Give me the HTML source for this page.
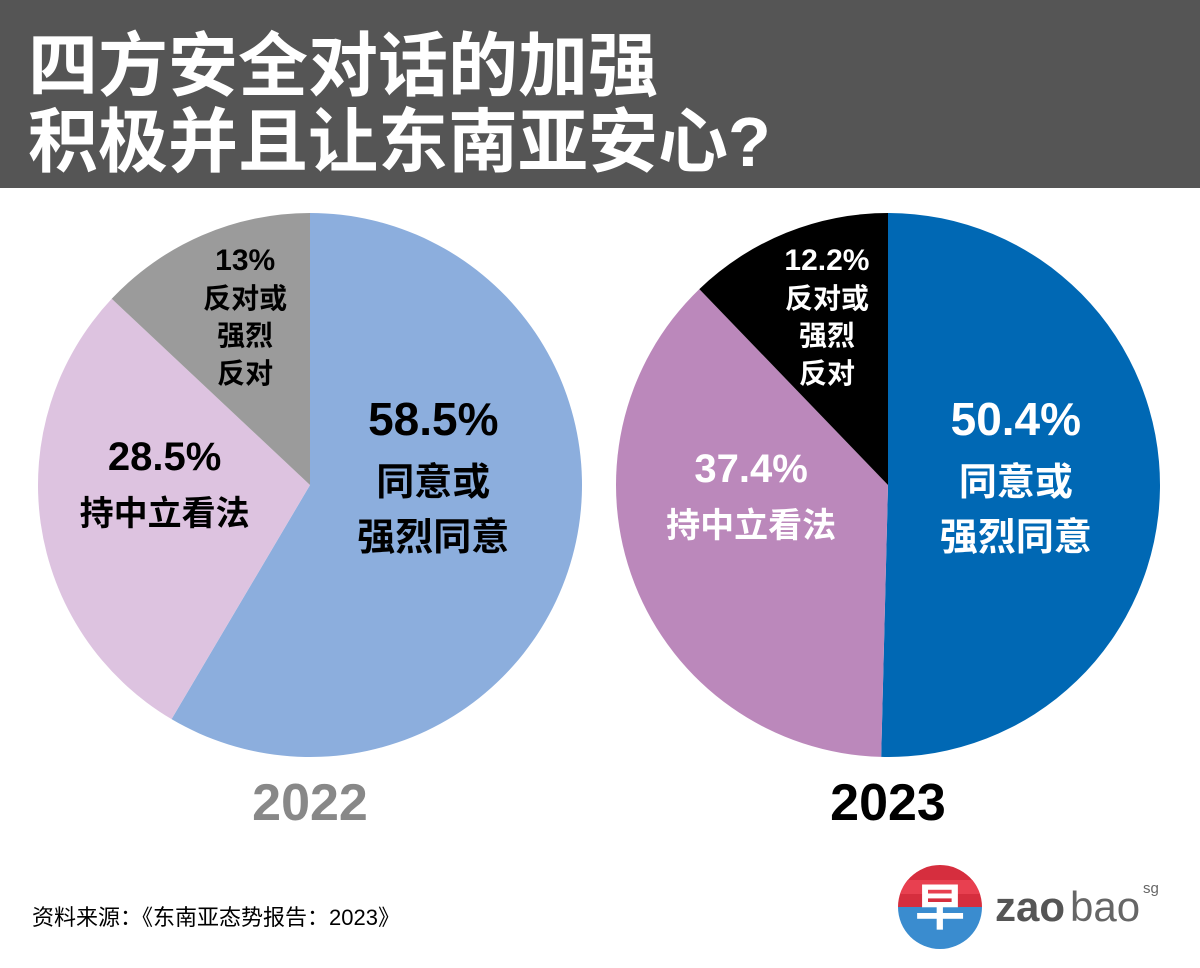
<!DOCTYPE html>
<html><head><meta charset="utf-8"><style>
body{margin:0;width:1200px;height:963px;background:#fff;overflow:hidden;font-family:"Liberation Sans","Noto Sans CJK SC",sans-serif}
svg text{font-family:"Liberation Sans","Noto Sans CJK SC",sans-serif}
</style></head><body>
<svg width="1200" height="963">
<rect x="0" y="0" width="1200" height="188" fill="#555555"/>
<text x="28" y="90" font-size="70" font-weight="bold" fill="#fff">四方安全对话的加强</text>
<text x="28" y="166" font-size="70" font-weight="bold" fill="#fff">积极并且让东南亚安心?</text>
<g id="pies"></g>
<text x="310" y="820" font-size="52" font-weight="bold" fill="#888" text-anchor="middle">2022</text>
<text x="888" y="820" font-size="52" font-weight="bold" fill="#000" text-anchor="middle">2023</text>
<text x="32" y="925" font-size="22" fill="#000">资料来源：《东南亚态势报告：2023》</text>
<g>
<clipPath id="lc"><circle cx="940" cy="907" r="42"/></clipPath>
<g clip-path="url(#lc)"><rect x="890" y="860" width="100" height="47" fill="#d62e3e"/><rect x="890" y="880" width="100" height="14" fill="#e84050"/><rect x="890" y="907" width="100" height="50" fill="#3a8ccf"/></g>
<text x="940" y="925" font-size="50" font-weight="bold" fill="#fff" text-anchor="middle">早</text>
<text x="995" y="921" font-size="42" font-weight="bold" fill="#555">zao</text>
<text x="1070" y="921" font-size="42" fill="#666">bao</text>
<text x="1143" y="893" font-size="15" fill="#666">sg</text>
</g>
</svg>
<script>
const years = ['2022','2023'];
const agree = [58.5, 50.4];
const neutral = [28.5, 37.4];
const oppose = [13, 12.2];
const pies = [
 {cx:310,cy:485,r:272,colors:['#8caedd','#ddc3e0','#9b9b9b'],tc:['#000','#000','#000'],nOff:0},
 {cx:888,cy:485,r:272,colors:['#0068b4','#bb88bb','#000000'],tc:['#fff','#fff','#fff'],nOff:12}
];
const names=['agree','neutral','oppose'];
const g=document.getElementById('pies');
const NS='http://www.w3.org/2000/svg';
function pt(p,a,rr){return [p.cx+rr*Math.sin(a),p.cy-rr*Math.cos(a)];}
years.forEach((y,i)=>{
 const p=pies[i];const vals=[agree[i],neutral[i],oppose[i]];
 let a0=0;
 vals.forEach((v,j)=>{
  const a1=a0+v/100*2*Math.PI;
  const s=pt(p,a0,p.r),e=pt(p,a1,p.r);
  const path=document.createElementNS(NS,'path');
  path.setAttribute('d',`M${p.cx},${p.cy}L${s[0]},${s[1]}A${p.r},${p.r} 0 ${a1-a0>Math.PI?1:0} 1 ${e[0]},${e[1]}Z`);
  path.setAttribute('fill',p.colors[j]);
  
  
  g.appendChild(path);
  a0=a1;
 });
 const L=[
  {a:agree[i]/200*2*Math.PI, rr:0.47, lines:[vals[0]+'%','同意或','强烈同意'], fs:[46,38,38], dy:[-50,10,65], off:0},
  {a:(agree[i]+neutral[i]/2)/100*2*Math.PI, rr:0.54, lines:[vals[1]+'%','持中立看法'], fs:[40,34], dy:[-15,40], off:p.nOff},
  {a:(agree[i]+neutral[i]+oppose[i]/2)/100*2*Math.PI, rr:0.6, lines:[vals[2]+'%','反对或','强烈','反对'], fs:[30,28,28,28], dy:[-215,-177,-140,-102], off:0}
 ];
 L.forEach((l,j)=>{
  const c=pt(p,l.a,p.r*l.rr);
  l.lines.forEach((t,k)=>{
   const tx=document.createElementNS(NS,'text');
   tx.setAttribute('x',c[0]);tx.setAttribute('y',p.cy+l.dy[k]+l.off);
   tx.setAttribute('text-anchor','middle');tx.setAttribute('font-size',l.fs[k]);
   tx.setAttribute('font-weight','bold');tx.setAttribute('fill',p.tc[j]);
   
   
   tx.textContent=t;g.appendChild(tx);
  });
 });
});
</script>
</body></html>
